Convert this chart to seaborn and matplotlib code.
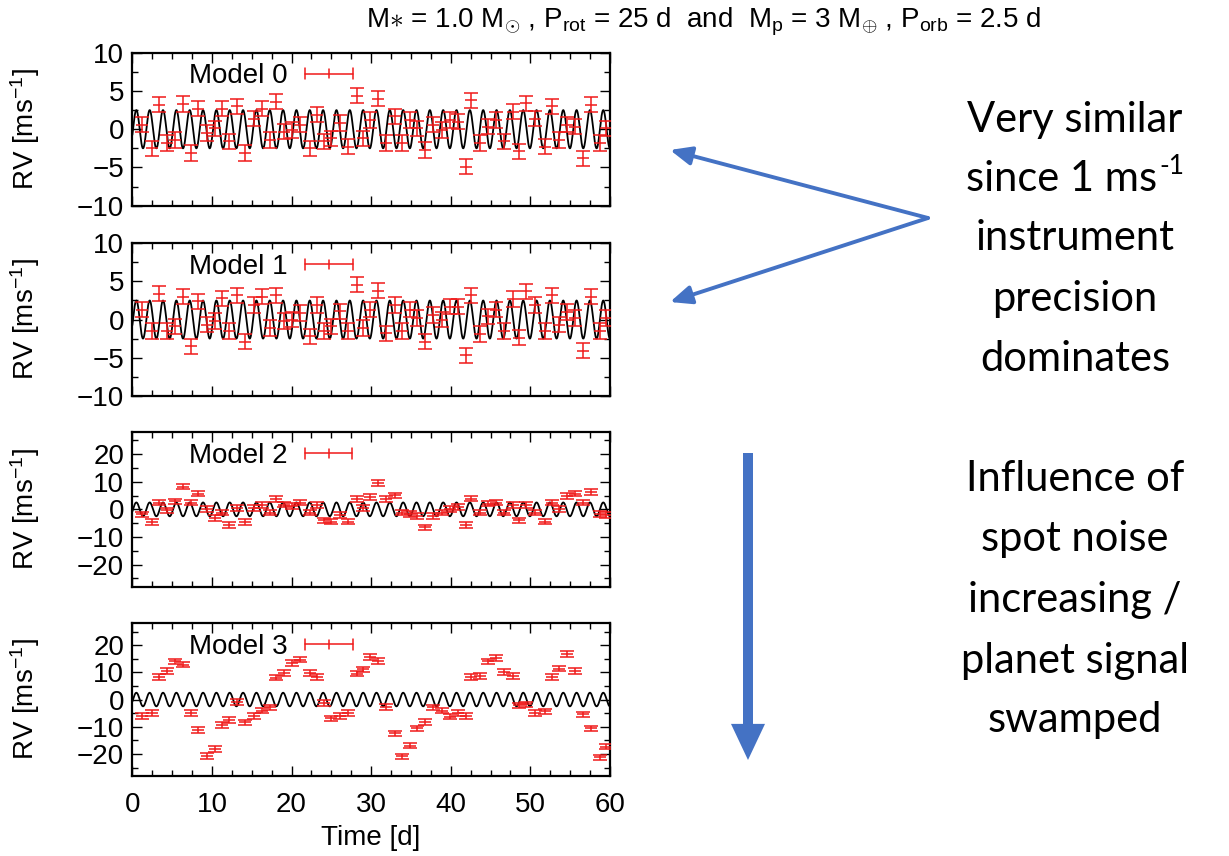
import numpy as np
import matplotlib
matplotlib.use("Agg")
import matplotlib.pyplot as plt
import seaborn as sns
from matplotlib.lines import Line2D
from matplotlib.legend_handler import HandlerBase
from matplotlib.patches import FancyArrowPatch
from matplotlib.ticker import MultipleLocator

# ---------------- data ----------------
t_obs = [1.17, 2.42, 3.40, 4.30, 5.35, 6.30, 7.40, 8.30, 9.40, 10.40,
         11.30, 12.20, 13.20, 14.10, 15.30, 16.30, 17.30, 18.10, 19.00, 20.10,
         21.10, 22.30, 23.20, 24.10, 25.00, 26.10, 27.10, 28.20, 29.00, 29.90,
         30.90, 31.90, 33.00, 33.90, 34.90, 35.80, 36.80, 37.80, 38.90, 39.90,
         40.90, 41.90, 42.60, 43.70, 44.70, 45.70, 46.70, 47.80, 48.60, 49.50,
         50.60, 51.80, 52.70, 53.60, 54.60, 55.60, 56.60, 57.60, 58.70, 59.50]

rv_model0 = [0.6, -2.5, 3.2, -1.8, -1.4, 3.3, -3.1, 2.7, -0.5, 0.1,
             2.7, -1.6, 3.0, -3.1, 1.4, 2.7, -1.4, 3.6, -0.3, -0.1,
             0.6, -2.5, 1.9, -1.6, -1.2, 0.8, -2.3, 4.4, -1.2, 1.2,
             4.0, -1.8, 1.7, -1.8, 1.2, 0.1, -2.7, 0.6, -0.1, 1.2,
             1.0, -4.9, 3.8, -1.8, 0.35, 1.2, -1.6, 2.3, -2.9, 3.4,
             1.4, -2.3, 3.0, -1.4, 0.6, 0.35, -3.8, 3.2, -1.8, 0.1]

rv_model1 = [1.3, -1.5, 3.4, -1.5, -0.9, 3.0, -3.5, 2.4, -0.7, -0.2,
             2.8, -1.5, 3.2, -2.9, 1.9, 3.0, -1.1, 3.2, -0.2, 0.0,
             0.85, -2.2, 1.9, -1.5, -0.9, 1.1, -1.5, 4.6, -1.1, 1.3,
             3.8, -1.8, 1.9, -1.5, 1.3, 0.2, -2.9, 0.6, 0.0, 1.7,
             1.7, -4.7, 3.2, -1.9, 0.4, 1.3, -1.5, 2.7, -2.4, 3.7,
             1.9, -1.5, 3.2, -0.7, 1.0, 0.2, -4.1, 3.0, -1.5, 0.2]

rv_model2 = [-1.8, -4.6, 2.4, -0.4, 2.9, 8.2, 2.4, 5.7, 0.2, -3.2,
             -1.2, -5.6, 0.5, -4.6, 0.5, 1.5, -1.2, 3.7, 1.7, 1.2,
             2.4, -1.2, 1.5, -4.0, -4.4, -2.0, -4.4, 3.7, 0.5, 4.5,
             9.5, 3.7, 5.1, -1.2, -1.6, -2.4, -6.5, -2.4, -1.2, 0.2,
             0.9, -5.6, 3.9, -1.2, 2.1, 2.4, -1.2, 1.5, -4.0, 1.5,
             -1.2, -4.4, 2.4, 0.2, 4.9, 5.7, 2.4, 6.3, -1.6, -2.0]

rv_model3 = [-6.1, -4.9, 8.3, 10.5, 14.0, 12.8, -4.9, -11.2, -20.7, -18.2,
             -9.4, -7.5, -0.9, -8.4, -6.1, -4.1, -2.9, 8.0, 9.7, 13.4,
             14.7, 9.7, 8.3, -1.2, -6.9, -6.1, -4.9, 9.5, 11.1, 15.6,
             14.1, -2.7, -12.4, -20.9, -17.0, -10.6, -8.2, -2.9, -4.1, -6.3,
             -4.9, -6.1, 8.3, 8.6, 14.0, 15.3, 10.1, 8.6, -2.1, -1.8,
             -4.9, -4.3, 8.3, 11.3, 16.8, 10.5, -5.5, -10.6, -21.3, -17.3]

rv_err = 1.0                      # m/s instrument precision
model_names = ["Model 0", "Model 1", "Model 2", "Model 3"]

# planet signal parameters as seen in the drawn curve
P_CURVE = 1.676
K_AMP = 2.5
T_PEAK = 0.5

x_ticks = [0, 10, 20, 30, 40, 50, 60]

title = (r"M$\ast$ = 1.0 M$_{\odot}$ , P$_{\mathregular{rot}}$ = 25 d  and  "
         r"M$_{\mathregular{p}}$ = 3 M$_{\oplus}$ , P$_{\mathregular{orb}}$ = 2.5 d")
block1 = ["Very similar", ("since 1 ms", "-1"), "instrument",
          "precision", "dominates"]
block2 = ["Influence of", "spot noise", "increasing /", "planet signal", "swamped"]

# ---------------- style ----------------
sns.set_theme(style="ticks")
plt.rcParams["font.family"] = ["Liberation Sans", "DejaVu Sans"]
plt.rcParams["mathtext.fontset"] = "custom"
plt.rcParams["mathtext.rm"] = "Liberation Sans"
plt.rcParams["mathtext.it"] = "Liberation Sans:italic"
plt.rcParams["mathtext.bf"] = "Liberation Sans:bold"
plt.rcParams["text.color"] = "black"
plt.rcParams["axes.labelcolor"] = "black"
plt.rcParams["xtick.color"] = "black"
plt.rcParams["ytick.color"] = "black"

RED = "#f01a1a"
BLUE = "#4472c4"
W, H = 1229, 856
FS = 20


def fx(x):
    return x / W


def fy(y):
    return 1 - y / H


class HErrHandler(HandlerBase):
    def create_artists(self, legend, orig_handle, xdescent, ydescent,
                       width, height, fontsize, trans):
        y = height / 2 - ydescent
        x0, x1 = -xdescent, width - xdescent
        h = 0.28 * height
        c = orig_handle.get_color()
        lw = orig_handle.get_linewidth()
        line = Line2D([x0, x1], [y, y], color=c, lw=lw)
        caps = Line2D([x0, x0, np.nan, x1, x1], [y - h, y + h, np.nan, y - h, y + h],
                      color=c, lw=lw)
        mid = Line2D([(x0 + x1) / 2] * 2, [y - h * 0.8, y + h * 0.8], color=c, lw=lw)
        for a in (line, caps, mid):
            a.set_transform(trans)
        return [line, caps, mid]


fig = plt.figure(figsize=(W / 100, H / 100), dpi=100)
fig.patch.set_facecolor("white")

rects = [[0.1077, 0.7597, 0.3886, 0.1787],
         [0.1077, 0.5377, 0.3886, 0.1780],
         [0.1077, 0.3146, 0.3886, 0.1807],
         [0.1077, 0.0938, 0.3886, 0.1780]]
series = [rv_model0, rv_model1, rv_model2, rv_model3]
ylims = [(-10, 10), (-10, 10), (-28, 28), (-28, 28)]
ymaj = [5, 5, 10, 10]
ymin = [2.5, 2.5, 5, 5]

t_curve = np.linspace(0, 60, 4000)
planet = K_AMP * np.cos(2 * np.pi * (t_curve - T_PEAK) / P_CURVE)

for i, (rect, rv) in enumerate(zip(rects, series)):
    ax = fig.add_axes(rect)
    ax.set_facecolor("white")
    sns.lineplot(x=t_curve, y=planet, ax=ax, color="black", lw=1.3)
    ax.errorbar(t_obs, rv, yerr=rv_err, fmt="none", ecolor=RED,
                elinewidth=1.1, capsize=4.8, capthick=1.1, zorder=3)
    sns.scatterplot(x=t_obs, y=rv, ax=ax, marker="_", s=85, color=RED,
                    linewidth=1.1, zorder=4)
    ax.set_xlim(0, 60)
    ax.set_ylim(*ylims[i])
    ax.xaxis.set_major_locator(MultipleLocator(10))
    ax.xaxis.set_minor_locator(MultipleLocator(2.5))
    ax.yaxis.set_major_locator(MultipleLocator(ymaj[i]))
    ax.yaxis.set_minor_locator(MultipleLocator(ymin[i]))
    ax.tick_params(which="both", direction="in", top=True, right=True,
                   colors="black", labelsize=FS)
    ax.tick_params(axis="y", which="major", length=7, width=1.0, pad=6)
    ax.tick_params(axis="x", which="major", length=7, width=1.0, pad=12)
    ax.tick_params(which="minor", length=4, width=1.0)
    for s in ax.spines.values():
        s.set_color("black")
        s.set_linewidth(1.6)
    ax.set_ylabel(r"RV [ms$^{\mathregular{-1}}$]", fontsize=FS, color="black")
    ax.yaxis.set_label_coords(-0.19, 0.5)
    if i < 3:
        ax.set_xticklabels([])
        ax.set_xlabel("")
    else:
        ax.set_xticks(x_ticks)
        ax.set_xticklabels([str(v) for v in x_ticks])
        ax.set_xlabel("Time [d]", fontsize=FS, color="black", labelpad=5)
    proxy = Line2D([], [], color=RED, lw=1.1)
    leg = ax.legend([proxy], [model_names[i]], handler_map={proxy: HErrHandler()},
                    loc="center left", bbox_to_anchor=(0.118, 0.845), frameon=False,
                    markerfirst=False, handlelength=1.7, handletextpad=0.65,
                    fontsize=FS, borderpad=0, borderaxespad=0)
    for tx in leg.get_texts():
        tx.set_color("black")

fig.text(fx(704), fy(22), title, ha="center", va="center", fontsize=FS,
         color="black")

# right-hand annotations
base1 = [132, 191, 250, 311, 371]
base2 = [491, 551, 612, 673, 732]
renderer = fig.canvas.get_renderer()
for txt, b in zip(block1, base1):
    if isinstance(txt, tuple):
        main_t = fig.text(0, fy(b), txt[0], ha="left", va="baseline",
                          fontsize=30, family="Lato", color="black")
        sup_t = fig.text(0, fy(b - 17), txt[1], ha="left", va="baseline",
                         fontsize=19, family="Lato", color="black")
        w1 = main_t.get_window_extent(renderer).width
        w2 = sup_t.get_window_extent(renderer).width
        x_start = 1075 - (w1 + w2 + 2) / 2
        main_t.set_x(fx(x_start))
        sup_t.set_x(fx(x_start + w1 + 2))
    else:
        fig.text(fx(1075), fy(b), txt, ha="center", va="baseline",
                 fontsize=30, family="Lato", color="black")
for txt, b in zip(block2, base2):
    fig.text(fx(1075), fy(b), txt, ha="center", va="baseline",
             fontsize=30, family="Lato", color="black")

for tip in [(670, 150), (670, 302)]:
    arr = FancyArrowPatch(posA=(fx(928), fy(218)), posB=(fx(tip[0]), fy(tip[1])),
                          transform=fig.transFigure,
                          arrowstyle="-|>,head_length=0.65,head_width=0.28",
                          mutation_scale=20, color=BLUE, lw=2.8,
                          shrinkA=0, shrinkB=0)
    fig.add_artist(arr)

varr = FancyArrowPatch(posA=(fx(748), fy(453)), posB=(fx(748), fy(760)),
                       transform=fig.transFigure,
                       arrowstyle="simple,head_length=2.6,head_width=2.45,tail_width=0.72",
                       mutation_scale=10, color=BLUE, lw=0,
                       shrinkA=0, shrinkB=0)
fig.add_artist(varr)

fig.savefig("out.png", dpi=100, facecolor="white")
